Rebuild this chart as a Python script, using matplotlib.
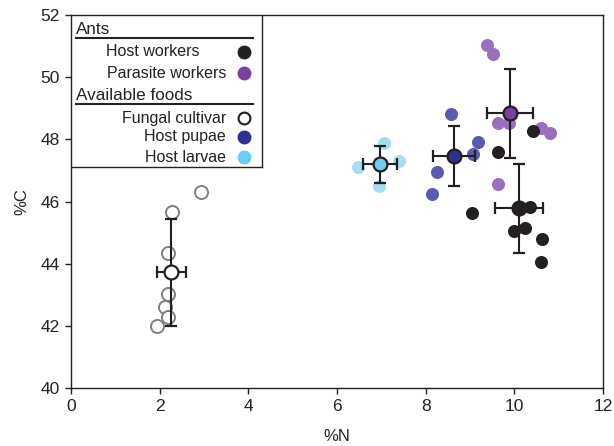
import matplotlib
matplotlib.use("Agg")
import matplotlib.pyplot as plt
from matplotlib.lines import Line2D
from matplotlib.patches import Rectangle

plt.rcParams['font.family'] = ['Liberation Sans', 'DejaVu Sans']

# ---- data ----
fungal_n = [2.93, 2.28, 2.19, 2.19, 2.12, 2.19, 1.94]
fungal_c = [46.30, 45.66, 44.34, 43.02, 42.60, 42.28, 42.00]
fungal_mean = (2.26, 43.73); fungal_err = (0.33, 1.72)

larvae_n = [7.07, 6.47, 7.40, 6.95]
larvae_c = [47.87, 47.12, 47.31, 46.51]
larvae_mean = (6.97, 47.20); larvae_err = (0.39, 0.60)

pupae_n = [8.57, 9.17, 9.07, 8.26, 8.14]
pupae_c = [48.81, 47.93, 47.53, 46.96, 46.23]
pupae_mean = (8.64, 47.47); pupae_err = (0.47, 0.97)

parasite_n = [9.38, 9.51, 9.63, 9.88, 10.60, 10.80, 9.63]
parasite_c = [51.04, 50.75, 48.54, 48.54, 48.38, 48.19, 46.56]
parasite_mean = (9.90, 48.84); parasite_err = (0.52, 1.43)

workers_n = [10.41, 9.63, 9.05, 10.11, 10.36, 10.00, 10.24, 10.62, 10.60]
workers_c = [48.27, 47.58, 45.64, 45.78, 45.83, 45.05, 45.16, 44.78, 44.04]
workers_mean = (10.11, 45.78); workers_err = (0.54, 1.43)

xticks = [0, 2, 4, 6, 8, 10, 12]
yticks = [40, 42, 44, 46, 48, 50, 52]

# colours
c_black = '#231f20'
c_purple_pt = '#9b6fc0'; c_purple = '#7b3fa0'
c_pupae_pt = '#5b5bb0'; c_pupae = '#2e3192'
c_larvae_pt = '#a8dcf0'; c_larvae = '#6dcff0'

fig = plt.figure(figsize=(6.14, 4.46), dpi=100)
ax = fig.add_axes([71/614, (446-388)/446, 532/614, 373/446])

ms = 9.4
ax.plot(fungal_n, fungal_c, 'o', ms=ms, mfc='white', mec='#808080', mew=1.4, ls='none', zorder=2)
ax.plot(larvae_n, larvae_c, 'o', ms=ms, mfc=c_larvae_pt, mec='none', ls='none', zorder=2)
ax.plot(pupae_n, pupae_c, 'o', ms=ms, mfc=c_pupae_pt, mec='none', ls='none', zorder=2)
ax.plot(parasite_n, parasite_c, 'o', ms=ms, mfc=c_purple_pt, mec='none', ls='none', zorder=2)
ax.plot(workers_n, workers_c, 'o', ms=ms, mfc=c_black, mec='none', ls='none', zorder=3)

for (m, e, fc) in [(fungal_mean, fungal_err, 'white'),
                   (larvae_mean, larvae_err, c_larvae),
                   (pupae_mean, pupae_err, c_pupae),
                   (parasite_mean, parasite_err, c_purple),
                   (workers_mean, workers_err, c_black)]:
    ax.errorbar([m[0]], [m[1]], xerr=[e[0]], yerr=[e[1]], fmt='o', ms=10,
                mfc=fc, mec=c_black, mew=1.6, ecolor=c_black, elinewidth=1.5,
                capsize=4.5, capthick=1.5, zorder=5)

ax.set_xlim(0, 12)
ax.set_ylim(40, 52)
ax.set_xticks(xticks)
ax.set_yticks(yticks)
ax.tick_params(direction='out', length=4, width=1, labelsize=12.5, colors='#222222', pad=4)
for s in ax.spines.values():
    s.set_linewidth(1.0)
    s.set_color('#222222')
    s.set_zorder(8)
ax.set_xlabel('%N', fontsize=12, color='#222222', labelpad=11)
ax.set_ylabel('%C', fontsize=12, color='#222222', labelpad=8)

# ---- legend drawn manually ----
def axx(px):
    return (px - 71) / 532
def axy(py):
    return (388 - py) / 373

tr = ax.transAxes
ax.add_patch(Rectangle((0, axy(167)), axx(262), 1 - axy(167), transform=tr,
                       facecolor='white', edgecolor='none', zorder=5.5))
ax.add_line(Line2D([axx(262), axx(262)], [axy(167), 1], transform=tr, color='#222222', lw=1, zorder=6))
ax.add_line(Line2D([0, axx(262)], [axy(167), axy(167)], transform=tr, color='#222222', lw=1, zorder=6))

fs = 11.5
ax.text(axx(76), axy(29), 'Ants', transform=tr, fontsize=12.3, ha='left', va='center', color='#222222', zorder=7)
ax.add_line(Line2D([axx(76), axx(253)], [axy(37.7), axy(37.7)], transform=tr, color='#222222', lw=1.5, zorder=7))
ax.text(axx(76), axy(95), 'Available foods', transform=tr, fontsize=12.3, ha='left', va='center', color='#222222', zorder=7)
ax.add_line(Line2D([axx(76), axx(253)], [axy(104), axy(104)], transform=tr, color='#222222', lw=1.5, zorder=7))

entries = [('Host workers', 200, 52, c_black, c_black),
           ('Parasite workers', 226, 73, c_purple, c_purple),
           ('Fungal cultivar', 226, 118, 'white', c_black),
           ('Host pupae', 226, 137, c_pupae, c_pupae),
           ('Host larvae', 226, 157, c_larvae, c_larvae)]
for label, rx, py, fc, ec in entries:
    ax.text(axx(rx), axy(py), label, transform=tr, fontsize=fs, ha='right', va='center', color='#222222', zorder=7)
    ax.plot([axx(244)], [axy(py)], 'o', transform=tr, ms=8.5, mfc=fc, mec=ec, mew=1.5, zorder=7, clip_on=False)

fig.savefig('out.png', dpi=100)
